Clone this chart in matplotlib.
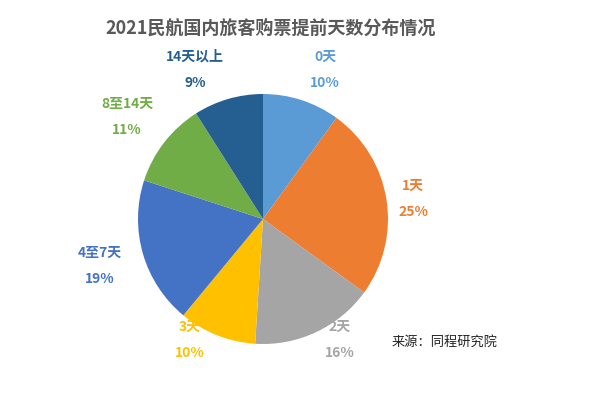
import matplotlib
matplotlib.use("Agg")
import matplotlib.pyplot as plt

plt.rcParams['font.family'] = ['Noto Sans CJK SC', 'DejaVu Sans']

title = "2021民航国内旅客购票提前天数分布情况"
categories = ["0天", "1天", "2天", "3天", "4至7天", "8至14天", "14天以上"]
values = [10, 25, 16, 10, 19, 11, 9]
colors = ["#5B9BD5", "#ED7D31", "#A5A5A5", "#FFC000", "#4472C4", "#70AD47", "#255E91"]
source = "来源：同程研究院"

# label anchor positions in pixel coordinates (layout)
label_pos = [(325, 70), (413, 199), (340, 340), (190, 340), (100, 266), (127, 117), (195, 70)]

W, H = 600, 396
fig = plt.figure(figsize=(W / 100, H / 100), dpi=100)
ax = fig.add_axes([0, 0, 1, 1])
cx, cy, R = 263, 219, 125

ax.pie(values, colors=colors, startangle=90, counterclock=False,
       center=(cx, H - cy), radius=R, wedgeprops=dict(linewidth=0))

for cat, v, c, (px, py) in zip(categories, values, colors, label_pos):
    ax.text(px, H - py, f"{cat}\n{v}%", ha="center", va="center", color=c,
            fontsize=10, fontweight="bold", linespacing=2.15)

ax.text(271, H - 28, title, ha="center", va="center", fontsize=13,
        fontweight="bold", color="#595959")
ax.text(445, H - 342, source, ha="center", va="center", fontsize=9.5, color="#222222")

ax.set_xlim(0, W)
ax.set_ylim(0, H)
ax.set_aspect("equal")
ax.axis("off")
fig.savefig("out.png", dpi=100)
